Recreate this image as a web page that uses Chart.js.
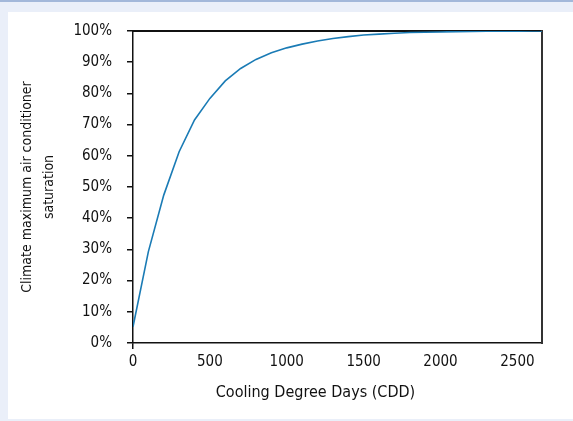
<!DOCTYPE html>
<html>
<head>
<meta charset="utf-8">
<script src="https://cdn.jsdelivr.net/npm/chart.js@4/dist/chart.umd.min.js"></script>
<style>
  html, body { margin: 0; padding: 0; }
  body { width: 573px; height: 421px; background: #eaeff9; border-top: 2px solid #a3b8da; box-sizing: border-box; position: relative; overflow: hidden; }
  #panel { position: absolute; left: 8px; top: 10px; width: 565px; height: 407px; background: #fff; overflow: hidden; }
  #myChart { position: absolute; left: 0; top: -5px; }
</style>
</head>
<body>
<div id="panel"><canvas id="myChart" width="565" height="412"></canvas></div>
<script>
// cooling degree days and saturation (%)
const cdd = [0, 100, 200, 300, 400, 500, 600, 700, 800, 900, 1000, 1100, 1200, 1300,
	1400, 1500, 1600, 1700, 1800, 1900, 2000, 2100, 2200, 2300, 2400, 2500, 2600, 2700];
const saturation = [5.2, 29.3, 47.4, 61.3, 71.5, 78.4, 84.0, 88.0, 90.9, 93.0, 94.6, 95.8, 96.8, 97.6,
	98.2, 98.7, 99.0, 99.3, 99.5, 99.6, 99.7, 99.8, 99.85, 99.9, 99.9, 99.95, 100, 100];
const xTicks = [0, 500, 1000, 1500, 2000, 2500];
const xTitle = "Cooling Degree Days (CDD)";
const yTitle = ["Climate maximum air conditioner", "saturation"];
const xMax = 2660;

const fontFamily = "'DejaVu Sans Condensed', 'DejaVu Sans', sans-serif";
const textColor = "#111";

const points = cdd.map((c, i) => ({ x: c, y: saturation[i] }));

// x axis title sits a bit left of the plot centre in the original
const xTitlePlugin = {
	id: "xTitle",
	afterDraw(chart) {
		const ctx = chart.ctx;
		const area = chart.chartArea;
		ctx.save();
		ctx.font = "16px " + fontFamily;
		ctx.fillStyle = textColor;
		ctx.textAlign = "center";
		ctx.textBaseline = "middle";
		ctx.fillText(xTitle, (area.left + area.right) / 2 - 22, area.bottom + 50);
		ctx.restore();
	}
};

new Chart("myChart", {
	type: "line",
	data: {
		datasets: [{
			data: points,
			borderColor: "#1a7bb5",
			borderWidth: 1.6,
			pointRadius: 0,
			fill: false,
			tension: 0
		}]
	},
	options: {
		responsive: false,
		animation: false,
		layout: { padding: { top: 16, right: 31, left: 0, bottom: 0 } },
		plugins: { legend: { display: false }, tooltip: { enabled: false } },
		scales: {
			x: {
				type: "linear",
				min: 0,
				max: xMax,
				afterBuildTicks: s => { s.ticks = xTicks.map(v => ({ value: v })); },
				afterFit: s => { s.height = 76; },
				border: { color: "#111", width: 1.5 },
				grid: {
					drawOnChartArea: false,
					tickLength: 6,
					color: c => (c.tick && c.tick.value === 0 ? "#111" : "rgba(0,0,0,0)"),
					lineWidth: 1.5
				},
				ticks: {
					padding: 4,
					color: textColor,
					font: { family: fontFamily, size: 15 },
					maxRotation: 0,
					callback: v => String(v)
				}
			},
			xTop: {
				type: "linear",
				position: "top",
				afterFit: s => { s.height = 0; },
				border: { color: "#111", width: 2 },
				grid: { drawOnChartArea: false, drawTicks: false },
				ticks: { display: false }
			},
			y: {
				min: 0,
				max: 100,
				afterFit: s => { s.width = 125; },
				border: { color: "#111", width: 1.5 },
				grid: { drawOnChartArea: false, tickLength: 6, color: "#111", lineWidth: 1.5 },
				ticks: {
					stepSize: 10,
					padding: 15,
					color: textColor,
					font: { family: fontFamily, size: 15 },
					callback: v => v + "%"
				},
				title: {
					display: true,
					text: yTitle,
					color: textColor,
					font: { family: fontFamily, size: 14, lineHeight: 1.6 },
					padding: { top: 8, bottom: 0 }
				}
			},
			yRight: {
				position: "right",
				afterFit: s => { s.width = 0; },
				border: { color: "#333", width: 2 },
				grid: { drawOnChartArea: false, drawTicks: false },
				ticks: { display: false }
			}
		}
	},
	plugins: [xTitlePlugin]
});
</script>
</body>
</html>
